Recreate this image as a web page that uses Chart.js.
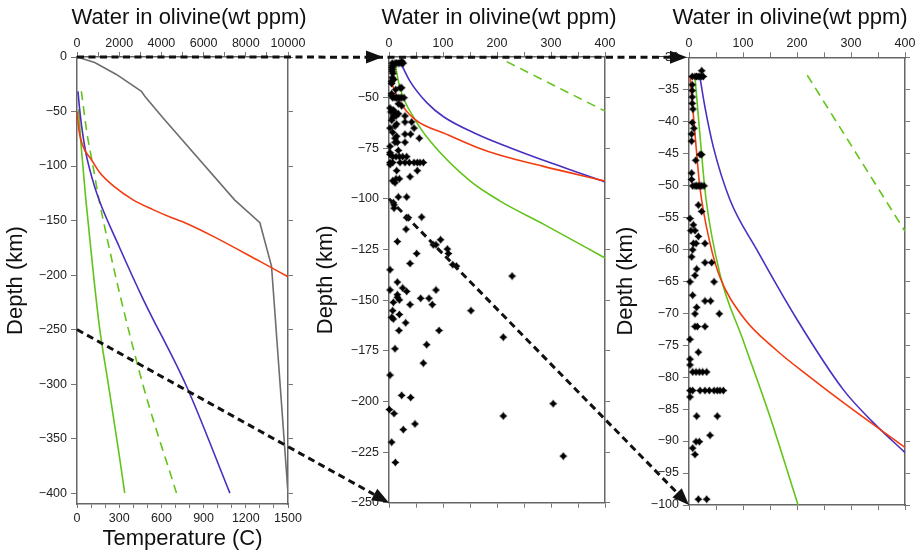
<!DOCTYPE html>
<html><head><meta charset="utf-8">
<script src="https://cdn.jsdelivr.net/npm/chart.js@4.4.0/dist/chart.umd.min.js"></script>
<style>
html,body{margin:0;padding:0;background:#fff;width:921px;height:552px;overflow:hidden;position:relative;}
canvas{position:absolute;top:0;}
</style></head><body>
<canvas id="c1" width="378" height="552" style="left:0px"></canvas>
<canvas id="c2" width="378" height="552" style="left:310px"></canvas>
<canvas id="c3" width="360" height="552" style="left:610px"></canvas>
<canvas id="ov" width="921" height="552" style="left:0px;pointer-events:none"></canvas>
<script>
// ---------------- DATA ----------------
// tick values / labels
const p1TempTicks   = [0,100,200,300,400,500,600,700,800,900,1000,1100,1200,1300,1400,1500];
const p1TempLabels  = [0,300,600,900,1200,1500];
const p1WaterTicks  = [0,1000,2000,3000,4000,5000,6000,7000,8000,9000,10000];
const p1WaterLabels = [0,2000,4000,6000,8000,10000];
const p1DepthTicks  = [0,-50,-100,-150,-200,-250,-300,-350,-400];
const zWaterTicks   = [0,50,100,150,200,250,300,350,400];
const zWaterLabels  = [0,100,200,300,400];
const p2DepthTicks  = [-50,-75,-100,-125,-150,-175,-200,-225,-250];
const p3DepthTicks  = [-30,-35,-40,-45,-50,-55,-60,-65,-70,-75,-80,-85,-90,-95,-100];

// panel 1 : geotherm (temperature C, depth km)
const p1Geotherm = [[0,0],[126,-5],[280,-16],[458,-31.5],[482,-36],[612,-56],[1120,-131],[1300,-152],[1383,-192],[1500,-400]];
// panel 1 : water in olivine (ppm, depth km)
const p1Red   = [[15,-50],[60,-62],[250,-80],[680,-94],[1076,-106],[1709,-118],[2658,-131],[3600,-140],[4556,-148],[5111,-152],[6455,-164.5],[8670,-187.5],[10000,-201.5]];
const p1Blue  = [[47,-31.5],[110,-45],[230,-65],[420,-88],[700,-110],[1044,-131],[2000,-174],[3132,-222],[5189,-302],[7246,-400]];
const p1Green = [[79,-48],[170,-75],[280,-100],[420,-131],[740,-192],[1060,-247],[1500,-302],[1960,-360],[2262,-400]];
const p1GreenDash = [[206,-31.5],[475,-70],[759,-100],[1044,-131],[2974,-290],[4714,-400]];

// panel 2
const p2Red   = [[4,-41],[8,-45],[20,-52],[48,-60.8],[107,-68.2],[162,-74.5],[206,-78.5],[286,-84],[400,-91.2]];
const p2Blue  = [[20,-32],[39,-42],[70,-52.5],[101,-59.5],[162,-68],[224,-74.8],[286,-81],[400,-91.7]];
const p2Green = [[11,-33],[20,-45],[48,-60.8],[76,-71.5],[150,-91.2],[205,-101],[286,-112.5],[400,-129.2]];
const p2GreenDash = [[218,-32.3],[400,-56.7]];

// panel 3
const p3Red   = [[2,-33],[11,-41.9],[20,-50.2],[39,-59.1],[57,-64.3],[100,-70.6],[162,-75.8],[224,-80],[286,-84],[400,-91]];
const p3Blue  = [[20,-33],[30,-38],[45,-44],[76,-52.3],[125,-60],[200,-71],[286,-82],[340,-87],[400,-91.8]];
const p3Green = [[11,-33],[20,-41.9],[31,-51.8],[57,-63.8],[100,-74.2],[150,-86.2],[202,-100]];
const p3GreenDash = [[219,-32.8],[400,-57.2]];

// measured samples (water ppm, depth km)
const samples = [
[23.5,-32.1],[6,-33],[11,-33],[14,-33],[17,-33],[20,-33],[23.5,-33],[26.5,-33],
[6,-34.3],[6,-35.2],[6,-36.2],[6,-37.2],[7.4,-38.1],[6,-40.2],[9,-41.1],[4.8,-42],[4.8,-43.1],
[20.4,-45.2],[23.5,-45.2],[12.5,-46.1],[4.8,-48.1],[4.8,-49.1],
[6.8,-50.1],[11,-50.1],[14,-50.1],[17,-50.1],[20.4,-50.1],[23.5,-50.1],[27.8,-50.1],
[17.3,-53.1],[23.4,-54.1],[1.9,-55.2],[8,-56.2],[3.7,-57.1],[11.1,-57.1],[17.3,-58],[8,-59.1],[13,-59.1],[29.6,-59.1],
[6.8,-60.1],[4.9,-61.2],[29.6,-62.1],[42,-62.1],[14.2,-63.1],[11.1,-64.1],[1.9,-65.1],[46.3,-65.1],[6.8,-67.2],
[29.6,-68.1],[40,-68.1],[14.2,-69.1],[11.1,-70.1],[56.1,-70.1],[11.1,-72.1],[15.4,-72.1],[29.6,-72.1],[1.9,-74.1],
[17.3,-76.1],[1.9,-77.2],[1.9,-78.1],
[6.8,-79.2],[13,-79.2],[19.1,-79.2],[25.3,-79.2],[32.7,-79.2],
[1.9,-82.1],[6.8,-82.1],[20.4,-82.1],[29.6,-82.1],[37.6,-82.1],[46.3,-82.1],[52.4,-82.1],[57.4,-82.1],[63.6,-82.1],
[1.9,-83.1],[14.2,-86.1],[52.4,-86.1],[38.9,-89.1],[13,-90.1],[19.1,-90.1],[6.8,-91.1],[11.1,-92.1],[17.3,-99.1],[32.7,-99.1],
[8,-101.9],[9.3,-103],[9.3,-104.6],[32.7,-109.3],[35.8,-109.3],[60.5,-109],[31.5,-115],[15.4,-121.1],[82,-122.7],[87,-122.7],
[95.6,-120.2],[108,-124.8],[110,-127],[51.2,-127],[38.9,-131.9],[118,-132.5],[125,-133.2],[1.9,-135],[228,-138.1],[15.4,-141.1],
[25.3,-144],[32.7,-145.7],[1.9,-145],[15.4,-147.3],[15.4,-148.6],[87,-145],[58.6,-149.1],[74,-149.1],[8,-151.1],[19.1,-149.9],
[38.9,-152.2],[80.2,-152.2],[6.8,-155.2],[4.9,-158.5],[8,-159.3],[19.1,-157.1],[151.8,-155.2],[30.9,-161.2],[18.5,-165],[92.6,-165],
[211.6,-168.3],[69.7,-172],[11.1,-174],[63.6,-181.1],[1.9,-187],[23.4,-197],[40.1,-198.1],[304,-201.1],[0.6,-204],[9.3,-206],
[211.6,-207.2],[48.1,-211.1],[26.5,-213.9],[4.9,-220.1],[322.7,-227],[11.7,-230.1]
];

// ---------------- STYLE / HELPERS ----------------
Chart.defaults.font.family = "'Liberation Sans', Arial, Helvetica, sans-serif";
Chart.defaults.color = '#222';
const COL = {blue:'#4a2fc0', red:'#f23c10', green:'#62c41a', gray:'#6e6e6e'};
const TITLE = 'Water in olivine(wt ppm)';

const star = (() => {
  const c = document.createElement('canvas'); c.width = 9; c.height = 9;
  const g = c.getContext('2d'); g.fillStyle = '#000'; g.beginPath();
  for (let i = 0; i < 8; i++) {
    const a = -Math.PI/2 + i*Math.PI/4, r = i % 2 ? 2.4 : 4;
    g.lineTo(4.5 + r*Math.cos(a), 4.5 + r*Math.sin(a));
  }
  g.closePath(); g.fill(); return c;
})();

const xy = arr => arr.map(p => ({x:p[0], y:p[1]}));
const fmt = v => v < 0 ? '\u2212' + Math.abs(v) : String(v);

function axis(pos, min, max, tickVals, labelVals, size, opt) {
  opt = opt || {};
  const horiz = pos === 'top' || pos === 'bottom';
  const a = {
    type:'linear', position:pos, min:min, max:max, bounds:'data',
    afterBuildTicks: s => { s.ticks = tickVals.map(v => ({value:v})); },
    afterFit: s => { if (horiz) s.height = size; else s.width = size; },
    border:{display:true, color:'#666', width:1.5},
    grid:{drawOnChartArea:false, drawTicks:true, tickLength:opt.tickLength || 5, color:'#777', lineWidth:1},
    ticks:{display:!!labelVals, autoSkip:false, maxRotation:0, padding:opt.padding == null ? 3 : opt.padding,
           font:{size:12.5}, color:'#222'},
    title:{display:false}
  };
  if (labelVals) a.ticks.callback = v => labelVals.includes(v) ? fmt(v) : '';
  if (opt.title) a.title = {display:true, text:opt.title, font:{size:22}, color:'#111', padding:opt.titlePad};
  return a;
}

function lineDS(data, color, xid, dash, smooth) {
  return {data:xy(data), xAxisID:xid, yAxisID:'yl', showLine:true, borderColor:color, backgroundColor:color,
          borderWidth:1.6, pointRadius:0, fill:false, borderDash:dash || [],
          cubicInterpolationMode: smooth ? 'monotone' : 'default', tension:0};
}
function samplesDS(ymin, ymax) {
  return {data:xy(samples.filter(p => p[1] >= ymin && p[1] <= ymax)), xAxisID:'xt', yAxisID:'yl',
          showLine:false, pointStyle:star, pointRadius:3.5, clip:false, backgroundColor:'#000', borderWidth:0};
}
function opts(scales) {
  return {
    responsive:false, animation:false, events:[],
    layout:{padding:0},
    plugins:{legend:{display:false}, tooltip:{enabled:false},
      title:{display:true, text:TITLE, font:{size:22, weight:'normal'}, color:'#111', padding:{top:4.4, bottom:0}}},
    scales:scales
  };
}
const depthTitle = {title:'Depth (km)', titlePad:{top:2.4, bottom:0}, tickLength:6, padding:4};

// ---------------- PANEL 1 ----------------
const ch1 = new Chart(document.getElementById('c1'), {
  type:'scatter',
  data:{datasets:[
    lineDS(p1Red, COL.red, 'xt', null, true),
    lineDS(p1Blue, COL.blue, 'xt', null, true),
    lineDS(p1Green, COL.green, 'xt', null, true),
    lineDS(p1GreenDash, COL.green, 'xt', [9,6], true),
    lineDS(p1Geotherm, COL.gray, 'xb', null, false)
  ]},
  options:opts({
    xt: axis('top', 0, 10000, p1WaterTicks, p1WaterLabels, 26.2, {tickLength:5, padding:1}),
    xb: axis('bottom', 0, 1500, p1TempTicks, p1TempLabels, 48, {tickLength:4, padding:3, title:'Temperature (C)', titlePad:{top:0, bottom:0}}),
    yl: axis('left', -410, 0, p1DepthTicks, p1DepthTicks, 77, depthTitle),
    yr: axis('right', -410, 0, p1DepthTicks, null, 90, {tickLength:5})
  })
});

// ---------------- PANEL 2 ----------------
const ch2 = new Chart(document.getElementById('c2'), {
  type:'scatter',
  data:{datasets:[
    samplesDS(-250, -30),
    lineDS(p2Red, COL.red, 'xt', null, true),
    lineDS(p2Blue, COL.blue, 'xt', null, true),
    lineDS(p2Green, COL.green, 'xt', null, true),
    lineDS(p2GreenDash, COL.green, 'xt', [9,6], false)
  ]},
  options:opts({
    xt: axis('top', 0, 400, zWaterTicks, zWaterLabels, 26.2, {tickLength:5, padding:1}),
    xb: axis('bottom', 0, 400, zWaterTicks, null, 49.3, {tickLength:5}),
    yl: axis('left', -250, -30, p2DepthTicks, p2DepthTicks, 79, depthTitle),
    yr: axis('right', -250, -30, p2DepthTicks, null, 83, {tickLength:5})
  })
});

// ---------------- PANEL 3 ----------------
const ch3 = new Chart(document.getElementById('c3'), {
  type:'scatter',
  data:{datasets:[
    samplesDS(-100, -30),
    lineDS(p3Red, COL.red, 'xt', null, true),
    lineDS(p3Blue, COL.blue, 'xt', null, true),
    lineDS(p3Green, COL.green, 'xt', null, true),
    lineDS(p3GreenDash, COL.green, 'xt', [9,6], false)
  ]},
  options:opts({
    xt: axis('top', 0, 400, zWaterTicks, zWaterLabels, 26.5, {tickLength:5, padding:1}),
    xb: axis('bottom', 0, 400, zWaterTicks, null, 47, {tickLength:5}),
    yl: axis('left', -100, -30, p3DepthTicks, p3DepthTicks, 79, depthTitle),
    yr: axis('right', -100, -30, p3DepthTicks, null, 65, {tickLength:5})
  })
});

// ---------------- ZOOM ARROWS (overlay, positioned from the charts' scales) ----------------
function pt(chart, offX, xVal, yVal) {
  return {x: offX + chart.scales.xt.getPixelForValue(xVal), y: chart.scales.yl.getPixelForValue(yVal)};
}
function head(g, tip, ang, len, half) {
  const bx = tip.x - len*Math.cos(ang), by = tip.y - len*Math.sin(ang);
  g.beginPath(); g.moveTo(tip.x, tip.y);
  g.lineTo(bx + half*Math.sin(ang), by - half*Math.cos(ang));
  g.lineTo(bx - half*Math.sin(ang), by + half*Math.cos(ang));
  g.closePath(); g.fill();
}
function drawArrows() {
  const g = document.getElementById('ov').getContext('2d');
  g.strokeStyle = '#111'; g.fillStyle = '#111'; g.lineWidth = 3; g.setLineDash([7,4.5]);
  const A = pt(ch1, 0, 0, 0);
  const B = pt(ch2, 310, 0, -30);
  const C = pt(ch3, 610, 0, -30);
  const D = pt(ch1, 0, 0, -250);
  const E = pt(ch2, 310, 0, -250);
  const F = pt(ch2, 310, 0, -100);
  const G = pt(ch3, 610, 0, -100);
  const L = 17, H = 6.5;
  // top line
  const Bt = {x:B.x - 6, y:B.y}, Ct = {x:C.x - 2, y:C.y};
  g.beginPath(); g.moveTo(A.x, A.y); g.lineTo(Ct.x - L, Ct.y); g.stroke();
  g.setLineDash([]);
  head(g, Bt, 0, L, H); head(g, Ct, 0, L, H);
  // diagonal links
  [[D, E], [F, G]].forEach(([s, t]) => {
    const ang = Math.atan2(t.y - s.y, t.x - s.x);
    g.setLineDash([7,4.5]);
    g.beginPath(); g.moveTo(s.x, s.y); g.lineTo(t.x - L*Math.cos(ang), t.y - L*Math.sin(ang)); g.stroke();
    g.setLineDash([]);
    head(g, t, ang, L, H);
  });
}
drawArrows();
</script>
</body></html>
